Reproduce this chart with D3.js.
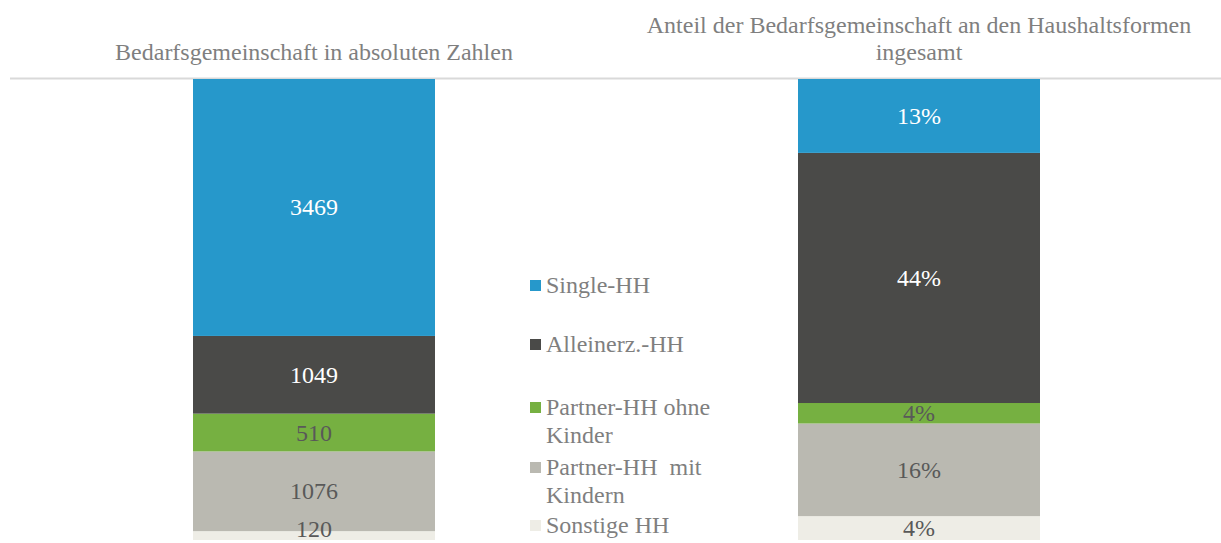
<!DOCTYPE html>
<html>
<head>
<meta charset="utf-8">
<script src="https://cdn.jsdelivr.net/npm/d3@7"></script>
<style>
  body { margin: 0; background: #fff; }
  text { font-family: "Liberation Serif", "Times New Roman", serif; }
</style>
</head>
<body>
<div id="chart"></div>
<script>
// series from bottom to top
var categories = ["Sonstige HH", "Partner-HH  mit Kindern", "Partner-HH ohne Kinder", "Alleinerz.-HH", "Single-HH"];
var absValues = [120, 1076, 510, 1049, 3469];
var pctValues = [4.2, 16.3, 3.6, 44.0, 13.0];
var panelTitles = [["Bedarfsgemeinschaft in absoluten Zahlen"],
                   ["Anteil der Bedarfsgemeinschaft an den Haushaltsformen", "ingesamt"]];
// legend order (top to bottom) with wrapped lines
var legendItems = [["Single-HH"], ["Alleinerz.-HH"], ["Partner-HH ohne", "Kinder"], ["Partner-HH  mit", "Kindern"], ["Sonstige HH"]];

function init(){
  var w = 1221, h = 543;
  var top = 79, bottom = 540;

  var svg = d3.select("#chart").append("svg")
    .attr("width", w).attr("height", h);

  var color = d3.scaleOrdinal()
    .domain(categories)
    .range(["#eeede6", "#bab9b1", "#76b041", "#4a4a48", "#2698cb"]);

  var x = d3.scaleBand()
    .domain(["abs", "pct"])
    .range([11.5, 1221.5])
    .paddingInner(0.6)
    .paddingOuter(0.3);

  // top rule
  svg.append("line")
    .attr("x1", 10).attr("x2", w)
    .attr("y1", top - 0.5).attr("y2", top - 0.5)
    .attr("stroke", "#d9d9d9").attr("stroke-width", 2);

  var panels = [
    {key: "abs", values: absValues, fmt: function(v){ return d3.format("d")(v); }},
    {key: "pct", values: pctValues, fmt: function(v){ return d3.format(".0f")(v) + "%"; }}
  ];

  panels.forEach(function(p, pi){
    var total = d3.sum(p.values);
    var y = d3.scaleLinear().domain([0, total]).range([bottom, top]);

    var row = {};
    categories.forEach(function(c, i){ row[c] = p.values[i]; });
    var stacked = d3.stack().keys(categories)([row]);

    var g = svg.append("g");
    g.selectAll("rect")
      .data(stacked)
      .enter().append("rect")
        .attr("x", x(p.key))
        .attr("width", x.bandwidth())
        .attr("y", function(d){ return y(d[0][1]); })
        .attr("height", function(d){ return y(d[0][0]) - y(d[0][1]); })
        .attr("fill", function(d){ return color(d.key); });

    // value labels, kept inside the window at the bottom
    g.selectAll("text.lbl")
      .data(stacked)
      .enter().append("text")
        .attr("class", "lbl")
        .attr("x", x(p.key) + x.bandwidth() / 2)
        .attr("y", function(d){ return Math.min((y(d[0][0]) + y(d[0][1])) / 2 + 8, h - 6); })
        .attr("text-anchor", "middle")
        .attr("font-size", 24)
        .attr("fill", function(d, i){ return i >= 3 ? "#ffffff" : "#595959"; })
        .text(function(d, i){ return p.fmt(p.values[i]); });

    // panel title
    var t = svg.append("text")
      .attr("text-anchor", "middle")
      .attr("font-size", 24)
      .attr("fill", "#7f7f7f");
    var lines = panelTitles[pi];
    lines.forEach(function(l, li){
      t.append("tspan")
        .attr("x", x(p.key) + x.bandwidth() / 2)
        .attr("y", 60 - (lines.length - 1 - li) * 27)
        .text(l);
    });
  });

  // legend
  var legY = [280, 339, 402, 462, 520];
  var leg = svg.append("g");
  legendItems.forEach(function(item, i){
    var cat = categories[categories.length - 1 - i];
    leg.append("rect")
      .attr("x", 530).attr("y", legY[i])
      .attr("width", 11).attr("height", 11)
      .attr("fill", color(cat));
    var t = leg.append("text")
      .attr("font-size", 24)
      .attr("fill", "#7f7f7f")
      .style("white-space", "pre");
    item.forEach(function(l, li){
      t.append("tspan")
        .attr("x", 546)
        .attr("y", legY[i] + 13 + li * 28)
        .text(l);
    });
  });
}
window.onload = init;
</script>
</body>
</html>
